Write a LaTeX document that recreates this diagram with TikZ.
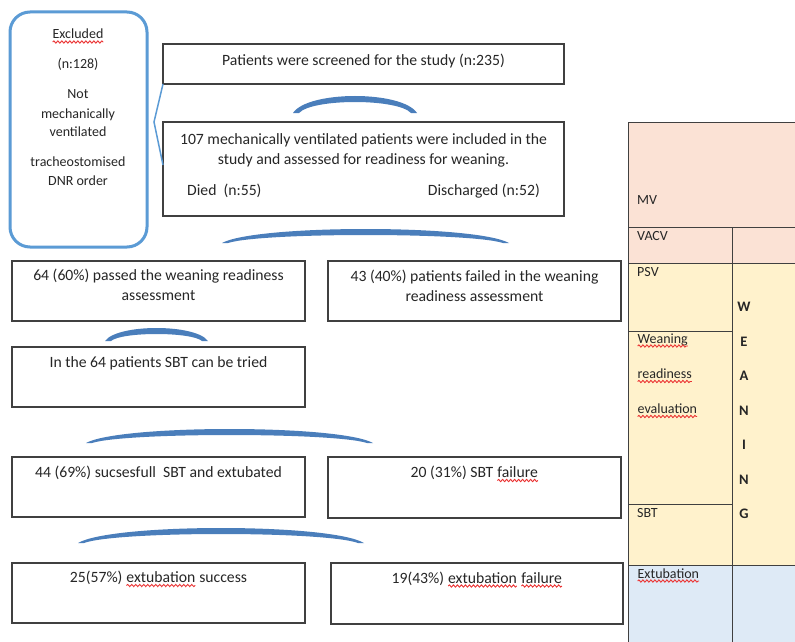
\documentclass[tikz,border=0pt]{standalone}
\usepackage{fontspec}
\setmainfont{Carlito}
\usetikzlibrary{decorations.pathmorphing}
\definecolor{boxline}{RGB}{64,64,64}
\definecolor{arcblue}{RGB}{74,126,187}
\definecolor{exblue}{RGB}{91,155,213}
\definecolor{txtc}{RGB}{38,38,38}
\definecolor{pinkc}{RGB}{251,226,213}
\definecolor{yelc}{RGB}{255,242,204}
\definecolor{bluc}{RGB}{222,234,246}
\definecolor{wavyc}{RGB}{235,50,50}
\newcommand\wv[1]{\tikz[baseline=(wvn.base)]{\node[inner sep=0pt,outer sep=0pt,draw=none,fill=none,anchor=base](wvn){#1};\draw[wavyc,line width=0.9pt,decorate,decoration={snake,amplitude=1.1pt,segment length=4pt}]([yshift=-3pt]wvn.base west)--([yshift=-3pt]wvn.base east);}}
% crescent: x1 x2 ybase ytop
\newcommand\cres[4]{\fill[arcblue] (#1,#3) .. controls ({#1+0.12*(#2-#1)},{#3-(#3-#4)/0.75}) and ({#2-0.12*(#2-#1)},{#3-(#3-#4)/0.75}) .. (#2,#3) -- (#2-6,#3) .. controls ({#2-6-0.12*(#2-#1-12)},{#3-(#3-#4-6)/0.75}) and ({#1+6+0.12*(#2-#1-12)},{#3-(#3-#4-6)/0.75}) .. (#1+6,#3) -- cycle;}
\begin{document}
\begin{tikzpicture}[x=1pt,y=-1pt,
  box/.style={draw=boxline,line width=1.2pt,inner sep=0pt,outer sep=0pt},
  exbox/.style={draw=exblue,line width=3pt,rounded corners=20pt,inner sep=0pt},
  tx/.style={text=txtc,font=\fontsize{14}{20}\selectfont,inner sep=0pt,anchor=base},
  fx/.style={tx,font=\fontsize{15.7}{20}\selectfont},
  fxl/.style={fx,anchor=base west},
  fxr/.style={fx,anchor=base east},
  txl/.style={tx,anchor=base west},
  cell/.style={draw=boxline,line width=1pt,inner sep=0pt,outer sep=0pt,anchor=north west},
  wl/.style={tx,font=\fontsize{14.5}{20}\selectfont\bfseries}]
\fill[white] (0,0) rectangle (795,642);
\useasboundingbox (0,0) rectangle (795,642);

% right table
\node[cell,fill=pinkc,minimum width=169pt,minimum height=105pt] (mv) at (628,122) {};
\node[cell,fill=pinkc,minimum width=104pt,minimum height=36pt] (vacv) at (628,227) {};
\node[cell,fill=pinkc,minimum width=65pt,minimum height=36pt] (vacvr) at (732,227) {};
\node[cell,fill=yelc,minimum width=104pt,minimum height=68pt] (psv) at (628,263) {};
\node[cell,fill=yelc,minimum width=104pt,minimum height=173pt] (wre) at (628,331) {};
\node[cell,fill=yelc,minimum width=104pt,minimum height=61pt] (sbtc) at (628,504) {};
\node[cell,fill=yelc,minimum width=65pt,minimum height=302pt] (wean) at (732,263) {};
\node[cell,fill=bluc,minimum width=104pt,minimum height=80pt] (ext) at (628,565) {};
\node[cell,fill=bluc,minimum width=65pt,minimum height=80pt] (extr) at (732,565) {};

\node[txl] (tmv) at (637,204.5) {MV};
\node[txl] (tvacv) at (637,240.5) {VACV};
\node[txl] (tpsv) at (637,276) {PSV};
\node[txl] (tw1) at (637,343) {\wv{Weaning}};
\node[txl] (tw2) at (637,378.5) {\wv{readiness}};
\node[txl] (tw3) at (637,413.5) {\wv{evaluation}};
\node[txl] (tsbt) at (637,517) {SBT};
\node[txl] (text) at (637,578) {\wv{Extubation}};

\node[wl] (lW) at (744,311.5) {W};
\node[wl] (lE) at (744,346) {E};
\node[wl] (lA) at (744,380.5) {A};
\node[wl] (lN1) at (744,415) {N};
\node[wl] (lI) at (744,449.5) {I};
\node[wl] (lN2) at (744,484) {N};
\node[wl] (lG) at (744,518.5) {G};

% excluded box
\node[exbox,minimum width=137pt,minimum height=235pt] (exc) at (78.5,129.5) {};
\node[tx] (e1) at (78,39) {\wv{Excluded}};
\node[tx] (e2) at (78,69) {(n:128)};
\node[tx] (e3) at (78,99) {Not};
\node[tx] (e4) at (78,118) {mechanically};
\node[tx] (e5) at (78,136.5) {ventilated};
\node[tx] (e6) at (78,166) {tracheostomised};
\node[tx] (e7) at (78,185) {DNR order};

% flow boxes
\node[box,minimum width=401pt,minimum height=40pt] (scr) at (363.5,64) {};
\node[fx] (tscr) at (363.5,65.5) {Patients were screened for the study (n:235)};

\node[box,minimum width=401pt,minimum height=94pt] (inc) at (363.5,169) {};
\node[fx] (tinc1) at (363.5,144) {107 mechanically ventilated patients were included in the};
\node[fx] (tinc2) at (363.5,164) {study and assessed for readiness for weaning.};
\node[fxl] (tdied) at (187,195.5) {Died\ \ (n:55)};
\node[fxr] (tdis) at (540,195.5) {Discharged (n:52)};

\node[box,minimum width=293pt,minimum height=60pt] (pas) at (158.5,291) {};
\node[fx] (tpas1) at (158.5,280.5) {64 (60\%) passed the weaning readiness};
\node[fx] (tpas2) at (158.5,300.5) {assessment};

\node[box,minimum width=293pt,minimum height=60pt] (fai) at (474.5,291) {};
\node[fx] (tfai1) at (474.5,281.5) {43 (40\%) patients failed in the weaning};
\node[fx] (tfai2) at (474.5,301.5) {readiness assessment};

\node[box,minimum width=293pt,minimum height=60pt] (sbt) at (158.5,377) {};
\node[fx] (tsbt2) at (158.5,367.5) {In the 64 patients SBT can be tried};

\node[box,minimum width=293pt,minimum height=60pt] (suc) at (158.5,487) {};
\node[fx] (tsuc) at (158.5,477) {44 (69\%) sucsesfull\ \ SBT and\ extubated};

\node[box,minimum width=293pt,minimum height=61pt] (sfa) at (474.5,487.5) {};
\node[fx] (tsfa) at (474.5,477.5) {20 (31\%) SBT \wv{failure}};

\node[box,minimum width=293pt,minimum height=60pt] (exs) at (158.5,593) {};
\node[fx] (texs) at (158.5,582.5) {25(57\%) \wv{extubation} success};

\node[box,minimum width=292pt,minimum height=61pt] (exf) at (477,593.5) {};
\node[fx] (texf) at (477,583) {19(43\%) \wv{extubation} \wv{failure}};

% connector from screened box to included box
\coordinate (kink) at (154,122);
\draw[exblue,line width=1.5pt] (scr.south west) -- (kink) -- ([yshift=4pt]inc.west);

% crescents
\cres{293}{417}{113}{96}
\cres{222}{509}{243}{229}
\cres{105}{208}{341}{328}
\cres{86}{373}{443}{429}
\cres{78}{364}{543}{528}
\end{tikzpicture}
\end{document}
